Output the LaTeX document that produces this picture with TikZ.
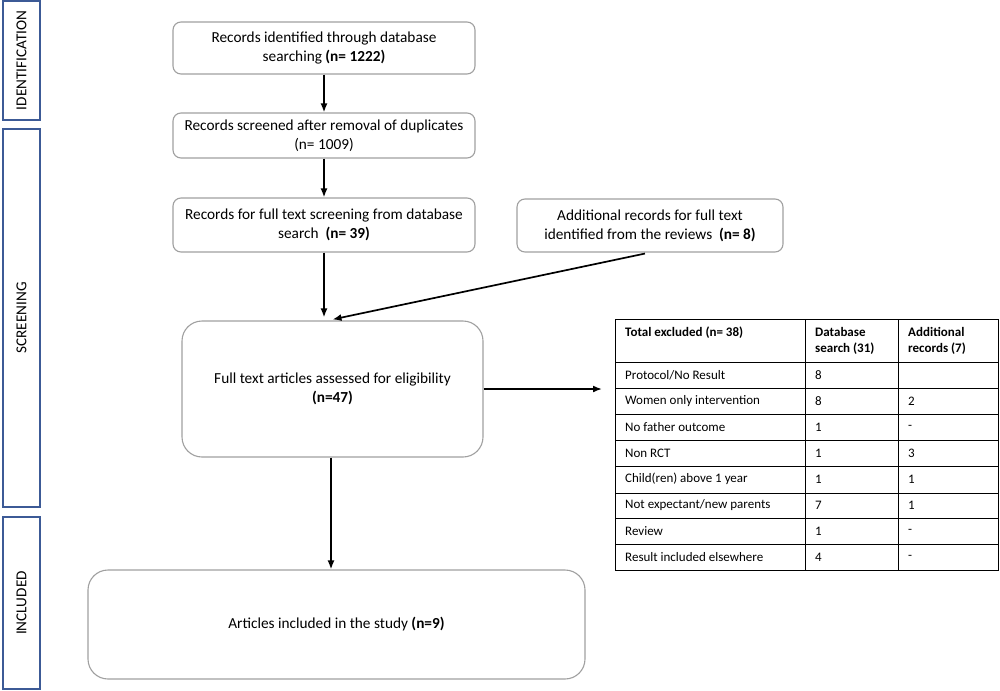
\documentclass[tikz,border=0pt]{standalone}
\usepackage{fontspec}
\setmainfont{Carlito}
\usetikzlibrary{arrows.meta,calc}
\definecolor{sideblue}{HTML}{3C5A96}
\definecolor{boxgray}{HTML}{A0A0A0}
\begin{document}
\begin{tikzpicture}[x=1pt,y=-1pt,
  sidebox/.style={draw=sideblue,line width=1.4pt},
  sidetext/.style={rotate=90,font=\fontsize{15.2}{17}\selectfont},
  flowbox/.style={draw=boxgray,line width=1.1pt,rounded corners=8pt,align=center,
     font=\fontsize{15.3}{19}\selectfont,inner sep=0pt},
  bigbox/.style={flowbox,rounded corners=20pt},
  arr/.style={line width=1.7pt,-{Latex[length=9pt,width=7pt]}},
  tline/.style={line width=0.9pt},
  tcell/.style={anchor=west,font=\fontsize{13}{16}\selectfont,inner sep=0pt,align=left},
  thead/.style={tcell,font=\fontsize{13}{16}\selectfont\bfseries}]
\useasboundingbox (0,0) rectangle (1000,690);
% side labels
\draw[sidebox] (3,1) rectangle (40,120);
\node[sidetext] (lid) at (21.5,60.5) {IDENTIFICATION};
\draw[sidebox] (3,129) rectangle (40,507);
\node[sidetext] (lsc) at (21.5,318) {SCREENING};
\draw[sidebox] (3,517) rectangle (40,689);
\node[sidetext] (lin) at (21.5,603) {INCLUDED};
% flow boxes
\node[flowbox,minimum width=302pt,minimum height=52pt] (B1) at (324,48)
  {Records identified through database\\searching \textbf{(n= 1222)}};
\node[flowbox,minimum width=302pt,minimum height=45pt] (B2) at (324,135.5)
  {Records screened after removal of duplicates\\(n= 1009)};
\node[flowbox,minimum width=302pt,minimum height=54pt] (B3) at (324,225)
  {Records for full text screening from database\\search \ \textbf{(n= 39)}};
\node[flowbox,minimum width=266pt,minimum height=53pt] (B4) at (650,225.5)
  {Additional records for full text\\identified from the reviews \ \textbf{(n= 8)}};
\node[bigbox,minimum width=301pt,minimum height=136pt] (B5) at (332.5,389)
  {Full text articles assessed for eligibility\\\textbf{(n=47)}};
\node[bigbox,minimum width=497pt,minimum height=109pt] (B6) at (336.5,624.5)
  {Articles included in the study \textbf{(n=9)}};
% table
\draw[tline] (615,319) rectangle (998,570);
\foreach \y in {362,388,414,440,466,493,518,544}
  \draw[tline] (615,\y) -- (998,\y);
\draw[tline] (805,319) -- (805,570);
\draw[tline] (898,319) -- (898,570);
\node[thead] (h1) at (625,333) {Total excluded (n= 38)};
\node[thead] (h2) at (815,341) {Database\\search (31)};
\node[thead] (h3) at (908,341) {Additional\\records (7)};
\foreach \t/\a/\b [count=\i] in {{Protocol/No Result}/8/{},{Women only intervention}/8/2,{No father outcome}/1/-,{Non RCT}/1/3,{Child(ren) above 1 year}/1/1,{Not expectant/new parents}/7/1,{Review}/1/-,{Result included elsewhere}/4/-}{
  \pgfmathsetmacro{\yy}{349+26*\i}
  \node[tcell] (r\i a) at (625,\yy) {\t};
  \node[tcell] (r\i b) at (815,\yy) {\a};
  \node[tcell] (r\i c) at (908,\yy) {\b};
}
\coordinate (Tin) at (602,389);
% arrows
\draw[arr] (B1.south) -- (B2.north);
\draw[arr] (B2.south) -- (B3.north);
\draw[arr] (B3.south) -- ($(B3.south |- B5.north)+(0,-3)$);
\draw[arr] ($(B4.south)+(-5,1)$) -- ($(B5.north)+(0,-1)$);
\draw[arr] (B5.east) -- (Tin);
\draw[arr] ($(B5.south)+(-1.5,0)$) -- ($(B5.south |- B6.north)+(-1.5,0)$);
\end{tikzpicture}
\end{document}
